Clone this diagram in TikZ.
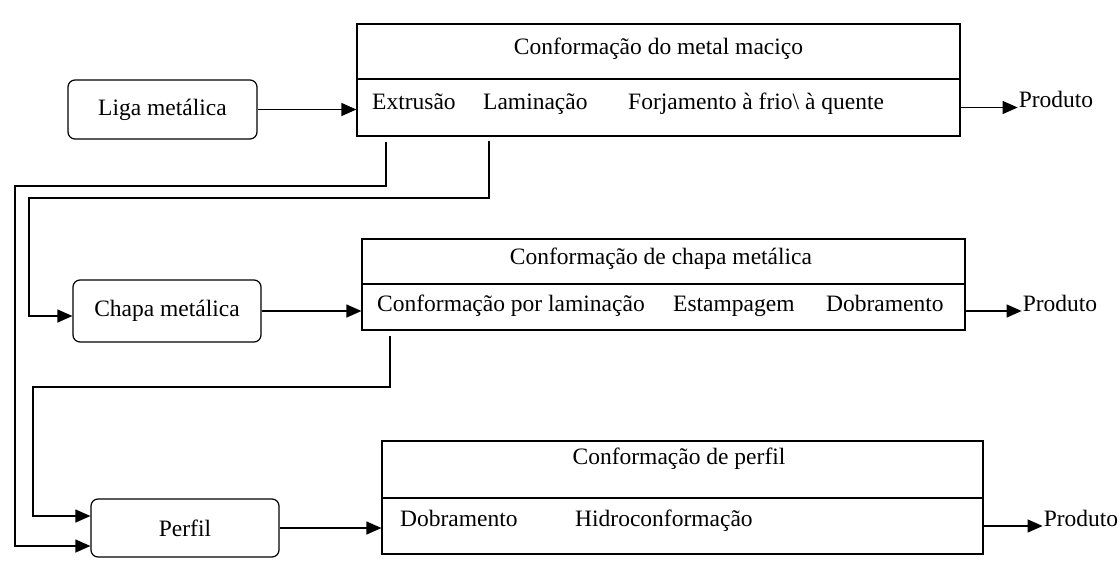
\documentclass[tikz,border=0pt]{standalone}
\usepackage{fontspec}
\setmainfont{Liberation Serif}
\usetikzlibrary{arrows.meta}
\begin{document}
\begin{tikzpicture}[x=1pt,y=-1pt,
  ln/.style={line width=1.2pt},
  arr/.style={ln,-{Triangle[length=15pt,width=13pt]}},
  box/.style={draw,ln,rectangle,inner sep=0pt},
  rbox/.style={draw,ln,rounded corners=7pt,inner sep=0pt,font=\fontsize{23.5}{28}\selectfont},
  txt/.style={inner sep=0pt,font=\fontsize{23.5}{28}\selectfont}]
\fill[white] (0,0) rectangle (1120,563);
\useasboundingbox (0,0) rectangle (1120,563);

% small rounded boxes
\node[rbox,minimum width=189pt,minimum height=59pt] (liga) at (162.5,109.5) {Liga metálica};
\node[rbox,minimum width=188pt,minimum height=62pt] (chapa) at (167,311) {Chapa metálica};
\node[rbox,minimum width=188pt,minimum height=58pt] (perfil) at (185,528) {Perfil};

% process boxes
\node[box,minimum width=603pt,minimum height=55pt] (b1top) at (658.5,51.5) {};
\node[box,minimum width=603pt,minimum height=57pt] (b1bot) at (658.5,107.5) {};
\node[box,minimum width=603pt,minimum height=45pt] (b2top) at (663.5,261.5) {};
\node[box,minimum width=603pt,minimum height=46pt] (b2bot) at (663.5,307) {};
\node[box,minimum width=601pt,minimum height=57pt] (b3top) at (682.5,469.5) {};
\node[box,minimum width=601pt,minimum height=56pt] (b3bot) at (682.5,526) {};

% texts box 1
\node[txt,anchor=base] (t1) at (658.5,54) {Conformação do metal maciço};
\node[txt,anchor=base west] (t1a) at (372,109) {Extrusão};
\node[txt,anchor=base west] (t1b) at (483,109) {Laminação};
\node[txt,anchor=base west] (t1c) at (628,109) {Forjamento à frio\textbackslash\ à quente};

% texts box 2
\node[txt,anchor=base] (t2) at (661,264) {Conformação de chapa metálica};
\node[txt,anchor=base west] (t2a) at (377,311) {Conformação por laminação};
\node[txt,anchor=base west] (t2b) at (673,311) {Estampagem};
\node[txt,anchor=base west] (t2c) at (826,311) {Dobramento};

% texts box 3
\node[txt,anchor=base] (t3) at (679,464) {Conformação de perfil};
\node[txt,anchor=base west] (t3a) at (400,526) {Dobramento};
\node[txt,anchor=base west] (t3b) at (575,526) {Hidroconformação};

% main flow arrows
\draw[arr] (liga.east) -- (liga.east -| b1bot.west);
\draw[arr] (chapa.east) -- (chapa.east -| b2bot.west);
\draw[arr] (perfil.east) -- (perfil.east -| b3bot.west);

% product outputs
\draw[arr] (b1bot.east) -- ++(57,0) coordinate (p1);
\node[txt,anchor=base west] (prod1) at ([xshift=1pt]p1) {Produto};
\draw[arr] ([yshift=-4pt]b2bot.east) -- ++(56,0) coordinate (p2);
\node[txt,anchor=base west] (prod2) at ([xshift=1pt]p2) {Produto};
\draw[arr] (b3bot.east) -- ++(59,0) coordinate (p3);
\node[txt,anchor=base west] (prod3) at ([xshift=1pt]p3) {Produto};

% feedback connectors
\coordinate (a1) at (386,186);
\coordinate (a2) at (15,186);
\coordinate (a3) at (15,546);
\draw[arr,shorten <=5pt] (b1bot.south -| a1) -- (a1) -- (a2) -- (a3) -- (a3 -| perfil.west);

\coordinate (c1) at (489,198);
\coordinate (c2) at (29,198);
\coordinate (c3) at (29,316);
\draw[arr,shorten <=4pt] (b1bot.south -| c1) -- (c1) -- (c2) -- (c3) -- (c3 -| chapa.west);

\coordinate (d1) at (390,387);
\coordinate (d2) at (33,387);
\coordinate (d3) at (33,516);
\draw[arr,shorten <=5pt] (b2bot.south -| d1) -- (d1) -- (d2) -- (d3) -- (d3 -| perfil.west);
\end{tikzpicture}
\end{document}
